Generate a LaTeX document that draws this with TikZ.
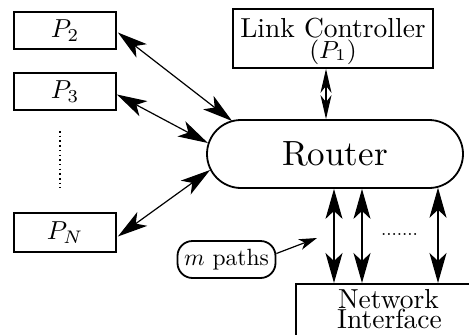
\documentclass[tikz,border=0pt]{standalone}
\usetikzlibrary{arrows.meta,calc}
\newcommand\sbx[2]{\scalebox{#1}{#2}}
\tikzset{
  box/.style={draw, line width=1.8pt, inner sep=0pt},
  txt/.style={anchor=base, inner sep=0pt},
  dbl/.style={line width=1.2pt, {Stealth[length=30pt,width=17pt,inset=8pt]}-{Stealth[length=30pt,width=17pt,inset=8pt]}},
  smalldbl/.style={line width=1.2pt, {Stealth[length=24pt,width=11pt,inset=7pt]}-{Stealth[length=24pt,width=11pt,inset=7pt]}},
  single/.style={line width=1.2pt, -{Stealth[length=18pt,width=11pt,inset=5pt]}},
  plabel/.style={box, minimum width=102},
}
\begin{document}
\begin{tikzpicture}[x=1pt,y=-1pt]
\useasboundingbox (0,0) rectangle (469,335);
\begin{scope}
\clip (0,0) rectangle (469,335);
% P boxes
\node[plabel, minimum height=37] (p2) at (65,30.5) {\sbx{2.6}{$P_2$}};
\node[plabel, minimum height=37] (p3) at (65,91.5) {\sbx{2.6}{$P_3$}};
\node[plabel, minimum height=39] (pn) at (65,232.5) {\sbx{2.6}{$P_N$}};
\coordinate (dtop) at (60,131);
\coordinate (dbot) at (60,188);
\draw[line width=1.5pt, dash pattern=on 1.5pt off 3.2pt] (dtop) -- (dbot);
% link controller
\node[box, minimum width=200, minimum height=59] (lc) at (333,38.5) {};
\node[txt] (lc1) at (333,37) {\sbx{2.75}{Link Controller}};
\node[txt] (lc2) at (333,58) {\sbx{2.75}{\small$(P_1)$}};
% router
\node[draw, line width=1.8pt, rounded corners=34, minimum width=256, minimum height=68, inner sep=0pt] (router) at (335,154) {\sbx{3.5}{Router}};
% m paths
\node[draw, line width=1.8pt, rounded corners=15, minimum width=98, minimum height=37, inner sep=0pt] (mp) at (226.5,259.5) {\sbx{2.35}{$m$ paths}};
% network interface
\node[box, minimum width=200, minimum height=80, anchor=north west] (ni) at (295,283) {};
\node[txt] (ni1) at (388.5,308) {\sbx{2.75}{Network}};
\node[txt] (ni2) at (389.5,328.5) {\sbx{2.75}{Interface}};
% arrows P -> router
\draw[dbl] ($(p2.east)+(1,2)$) -- ($(router.west)+(26,-33)$);
\draw[dbl] ($(p3.east)+(0,3)$) -- ($(router.west)+(1.8,-11)$);
\draw[dbl] ($(pn.east)+(1,4)$) -- ($(router.west)+(4,16)$);
% link controller arrow
\coordinate (lx) at (326,0);
\draw[smalldbl] (lx |- lc.south) -- (lx |- router.north);
% router -> NI arrows
\coordinate (v1) at (334,0);
\coordinate (v2) at (362,0);
\coordinate (v3) at (438,0);
\draw[dbl] (v1 |- router.south) -- (v1 |- ni.north);
\draw[dbl] (v2 |- router.south) -- (v2 |- ni.north);
\draw[dbl] ($(v3 |- router.south)+(0,-1.2)$) -- (v3 |- ni.north);
\node[inner sep=0pt] (vdots) at (399.5,234) {\sbx{1.9}{.......}};
% m paths arrow
\coordinate (mpt) at (317,238);
\draw[single] ($(mp.east)+(0,-6)$) -- (mpt);
\end{scope}
\end{tikzpicture}
\end{document}
